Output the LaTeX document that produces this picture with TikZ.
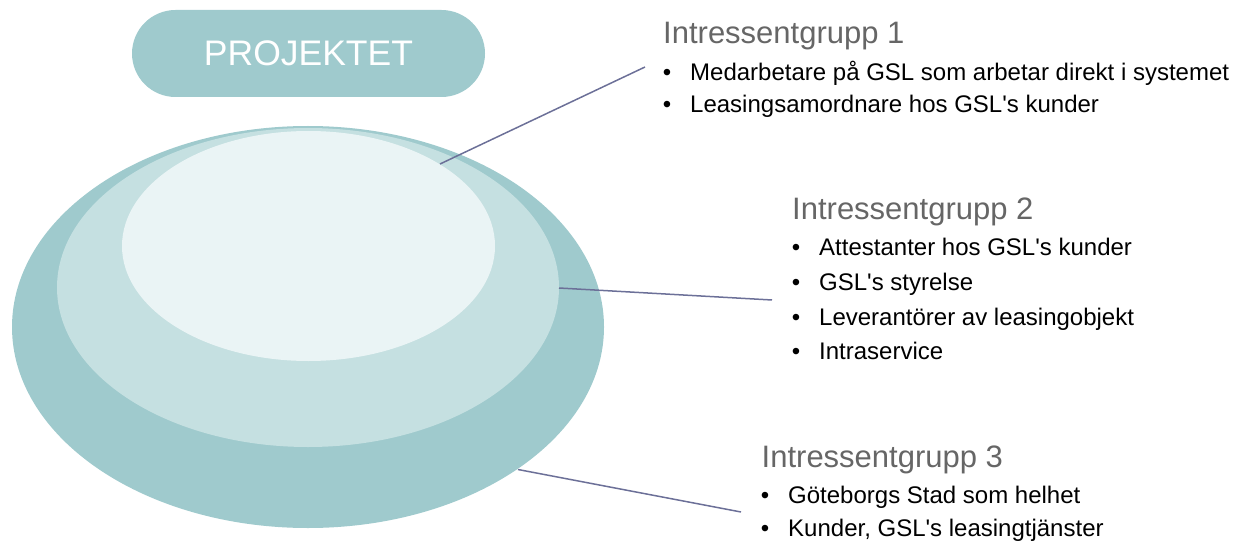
\documentclass[tikz,border=0pt]{standalone}
\usepackage{fontspec}
\setmainfont{Liberation Sans}
\usetikzlibrary{shapes.geometric}
\definecolor{outerc}{HTML}{9FCACD}
\definecolor{midc}{HTML}{C5E0E1}
\definecolor{innerc}{HTML}{EAF4F5}
\definecolor{linec}{HTML}{6C7098}
\definecolor{titlec}{HTML}{666666}
\newcommand{\apo}{\textquotesingle}
\tikzset{
  ring/.style={ellipse, inner sep=0pt, draw=none},
  grouptitle/.style={anchor=base west, inner sep=0pt, text=titlec, font=\fontsize{31}{36}\selectfont},
  item/.style={anchor=base west, inner sep=0pt, text=black, font=\fontsize{24}{28}\selectfont},
  dot/.style={anchor=base, inner sep=0pt, text=black, font=\fontsize{24}{28}\selectfont},
  leader/.style={draw=linec, line width=1.5pt},
}
\begin{document}
\begin{tikzpicture}[x=1pt,y=-1pt]
\useasboundingbox (0,0) rectangle (1238,545);
% project box
\node[fill=outerc, rounded corners=43.5pt, minimum width=353pt, minimum height=87pt, inner sep=0pt,
      text=white, font=\fontsize{35.5}{40}\selectfont] (proj) at (308.5,53.5) {PROJEKTET};
% ellipses
\node[ring, fill=outerc, minimum width=592pt, minimum height=402pt] (outer) at (308,327) {};
\node[ring, fill=midc, minimum width=502pt, minimum height=319pt] (mid) at (308,287.5) {};
\node[ring, fill=innerc, minimum width=373pt, minimum height=230pt] (inner) at (308.5,246) {};
% group 1
\node[grouptitle] (g1) at (663,43.3) {Intressentgrupp 1};
\node[dot] (b11) at (667,81) {\textbullet};
\node[item] (i11) at (690,81) {Medarbetare på GSL som arbetar direkt i systemet};
\node[dot] (b12) at (667,113) {\textbullet};
\node[item] (i12) at (690,113) {Leasingsamordnare hos GSL\apo s kunder};
% group 2
\node[grouptitle] (g2) at (792,219) {Intressentgrupp 2};
\node[dot] (b21) at (796,255.7) {\textbullet};
\node[item] (i21) at (819,255.7) {Attestanter hos GSL\apo s kunder};
\node[dot] (b22) at (796,290.5) {\textbullet};
\node[item] (i22) at (819,290.5) {GSL\apo s styrelse};
\node[dot] (b23) at (796,325) {\textbullet};
\node[item] (i23) at (819,325) {Leverantörer av leasingobjekt};
\node[dot] (b24) at (796,359.5) {\textbullet};
\node[item] (i24) at (819,359.5) {Intraservice};
% group 3
\node[grouptitle] (g3) at (761.5,467.7) {Intressentgrupp 3};
\node[dot] (b31) at (765,503) {\textbullet};
\node[item] (i31) at (788,503) {Göteborgs Stad som helhet};
\node[dot] (b32) at (765,536) {\textbullet};
\node[item] (i32) at (788,536) {Kunder, GSL\apo s leasingtjänster};
% leader lines
\coordinate (s1) at (440,164);
\coordinate (e1) at (645,67);
\coordinate (s2) at (559,288);
\coordinate (e2) at (772,300);
\coordinate (s3) at (518,469.5);
\coordinate (e3) at (741,512);
\draw[leader] (s1) -- (e1);
\draw[leader] (s2) -- (e2);
\draw[leader] (s3) -- (e3);
\end{tikzpicture}
\end{document}
